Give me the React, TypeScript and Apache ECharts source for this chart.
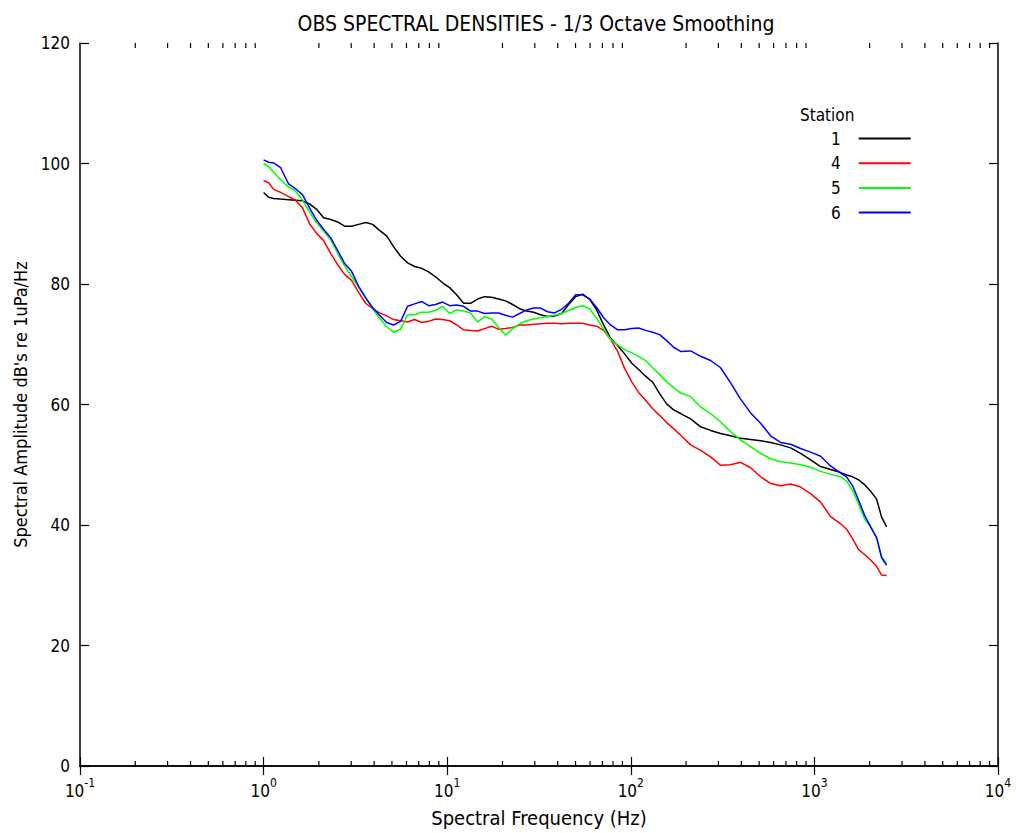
import React, { useEffect, useRef } from "react";
import * as echarts from "echarts";

// Frequencies (Hz) at which the curves were read
const frequencies = [
  1.0, 1.065, 1.134, 1.238, 1.368, 1.494, 1.631, 1.78, 1.944, 2.122,
  2.317, 2.53, 2.762, 3.015, 3.292, 3.594, 3.924, 4.283, 4.677, 5.106,
  5.575, 6.085, 6.643, 7.254, 7.918, 8.645, 9.438, 10.31, 11.25, 12.28,
  13.41, 14.64, 15.98, 17.45, 19.05, 20.8, 22.71, 24.8, 27.07, 29.55,
  32.27, 35.23, 38.46, 41.99, 45.84, 50.05, 54.64, 59.65, 65.13, 71.11,
  77.62, 84.75, 92.52, 101.0, 110.3, 120.4, 131.5, 143.5, 156.7, 171.1,
  186.8, 211.8, 240.0, 272.1, 308.4, 349.7, 396.3, 449.3, 509.3, 577.3,
  654.4, 741.9, 840.9, 953.4, 1081, 1225, 1389, 1497, 1615, 1741,
  1877, 2024, 2182, 2323, 2474,
];

const station1 = [
  95.2, 94.4, 94.2, 94.1, 94.0, 93.9, 93.8, 93.3, 92.4, 91.0,
  90.7, 90.3, 89.6, 89.6, 89.9, 90.2, 89.9, 88.9, 88.0, 86.2,
  84.6, 83.5, 82.9, 82.6, 82.0, 81.2, 80.2, 79.4, 78.2, 76.8,
  76.8, 77.5, 77.9, 77.8, 77.5, 77.2, 76.6, 75.9, 75.5, 75.3,
  74.9, 74.6, 74.7, 75.1, 76.6, 77.9, 78.3, 77.5, 75.7, 73.2,
  71.0, 69.8, 68.4, 66.9, 65.8, 64.7, 63.7, 61.8, 60.1, 59.1,
  58.5, 57.6, 56.3, 55.7, 55.2, 54.8, 54.4, 54.2, 54.0, 53.7,
  53.3, 52.8, 51.9, 50.8, 49.7, 49.2, 48.7, 48.3, 48.0, 47.5,
  46.7, 45.6, 44.3, 41.3, 39.7,
];

const station4 = [
  97.2, 96.8, 95.7, 95.2, 94.5, 93.9, 92.6, 90.0, 88.4, 87.2,
  85.1, 83.2, 81.6, 80.6, 78.6, 76.8, 75.9, 75.2, 74.7, 74.1,
  73.9, 73.7, 74.1, 73.6, 73.8, 74.2, 74.1, 73.9, 73.2, 72.4,
  72.3, 72.2, 72.6, 73.0, 72.5, 72.6, 72.8, 73.2, 73.2, 73.3,
  73.4, 73.5, 73.5, 73.4, 73.5, 73.5, 73.5, 73.2, 73.0, 72.3,
  70.8, 68.8, 66.0, 63.8, 62.0, 60.7, 59.3, 58.2, 57.0, 56.0,
  54.9, 53.3, 52.4, 51.3, 49.9, 50.0, 50.4, 49.5, 48.0, 46.9,
  46.5, 46.8, 46.3, 45.2, 43.8, 41.4, 40.2, 39.3, 37.7, 35.9,
  35.1, 34.2, 33.1, 31.7, 31.6,
];

const station5 = [
  100.0, 99.5, 98.6, 97.3, 96.1, 95.4, 93.9, 91.9, 90.2, 88.8,
  87.4, 85.1, 83.0, 81.2, 79.5, 77.8, 75.9, 74.3, 72.9, 72.0,
  72.5, 74.9, 74.9, 75.3, 75.3, 75.6, 76.3, 75.1, 75.7, 75.5,
  75.2, 73.7, 74.6, 74.2, 72.8, 71.5, 72.6, 73.4, 73.9, 74.2,
  74.4, 74.6, 74.8, 75.1, 75.6, 76.1, 76.4, 75.9, 74.3, 72.5,
  70.8, 69.9, 69.1, 68.6, 68.0, 67.3, 66.1, 65.0, 63.8, 62.8,
  61.9, 61.3, 59.6, 58.5, 57.1, 55.5, 54.1, 53.0, 51.9, 51.0,
  50.5, 50.3, 50.0, 49.6, 48.9, 48.4, 48.0, 47.3, 45.7, 43.5,
  41.0, 39.7, 37.8, 34.7, 33.6,
];

const station6 = [
  100.6, 100.2, 100.1, 99.3, 96.6, 95.8, 94.8, 92.6, 90.6, 89.1,
  87.7, 85.6, 83.4, 82.1, 79.6, 77.7, 76.1, 74.8, 73.6, 73.2,
  73.8, 76.3, 76.7, 77.1, 76.4, 76.6, 77.0, 76.4, 76.5, 76.3,
  75.5, 75.5, 75.1, 75.2, 75.2, 74.8, 74.5, 75.1, 75.7, 76.0,
  76.0, 75.4, 75.2, 75.8, 76.8, 78.2, 78.2, 77.5, 76.1, 74.4,
  73.2, 72.4, 72.4, 72.6, 72.7, 72.3, 72.0, 71.6, 70.6, 69.5,
  68.8, 68.9, 68.0, 67.3, 66.1, 63.6, 60.9, 58.6, 56.9, 54.8,
  53.7, 53.4, 52.7, 52.1, 51.4, 49.8, 48.6, 48.0, 46.5, 44.1,
  41.6, 39.7, 37.9, 34.6, 33.3,
];

const stationNames = ["1", "4", "5", "6"];
const stationValues = [station1, station4, station5, station6];
const stationColors = ["#000000", "#ff0000", "#00ff00", "#0000ff"];

const decades = [0.1, 1, 10, 100, 1000];
const minorMultipliers = [2, 3, 4, 5, 6, 7, 8, 9];

const titleText = "OBS SPECTRAL DENSITIES - 1/3 Octave Smoothing";
const xName = "Spectral Frequency (Hz)";
const yName = "Spectral Amplitude dB's re 1uPa/Hz";
const legendTitle = "Station";

export default function App() {
  const ref = useRef<HTMLDivElement>(null);

  useEffect(() => {
    document.body.style.margin = "0";
    const chart = echarts.init(ref.current as HTMLDivElement, null, { renderer: "svg" });
    const font = "'DejaVu Sans Condensed', 'Liberation Sans', Arial, sans-serif";

    const minorTicks: number[][] = [];
    decades.forEach((d) => minorMultipliers.forEach((m) => minorTicks.push([d * m, 0])));

    const lineSeries = stationValues.map((vals, i) => ({
      name: stationNames[i],
      type: "line",
      data: frequencies.map((f, j) => [f, vals[j]]),
      symbol: "none",
      showSymbol: false,
      lineStyle: { color: stationColors[i], width: 1.5 },
      itemStyle: { color: stationColors[i] },
      xAxisIndex: 0,
      yAxisIndex: 0,
      z: 3,
    }));

    const tickSeries = {
      type: "custom",
      silent: true,
      clip: false,
      xAxisIndex: 0,
      yAxisIndex: 0,
      data: minorTicks,
      encode: { x: 0, y: 1 },
      z: 5,
      renderItem: (_params: any, api: any) => {
        const v = api.value(0);
        const b = api.coord([v, 0]);
        const t = api.coord([v, 120]);
        return {
          type: "group",
          children: [
            { type: "line", shape: { x1: b[0], y1: b[1] - 5, x2: b[0], y2: b[1] }, style: { stroke: "#000", lineWidth: 1.2 } },
            { type: "line", shape: { x1: t[0], y1: t[1], x2: t[0], y2: t[1] + 5 }, style: { stroke: "#000", lineWidth: 1.2 } },
          ],
        };
      },
    };

    const axisLineStyle = { color: "#000", width: 1.5 };
    const tickStyle = { show: true, inside: true, length: 9, lineStyle: { color: "#000", width: 1.2 } };

    chart.setOption({
      animation: false,
      backgroundColor: "#ffffff",
      textStyle: { fontFamily: font, color: "#000" },
      title: {
        text: titleText,
        left: 531,
        textAlign: "center",
        top: 8,
        textStyle: { fontFamily: font, fontSize: 21, fontWeight: "normal", color: "#000" },
      },
      grid: { left: 80, right: 18, top: 43, bottom: 67, containLabel: false },
      legend: {
        data: stationNames,
        orient: "vertical",
        left: 826,
        top: 125,
        align: "right",
        icon: "rect",
        itemWidth: 52,
        itemHeight: 2,
        itemGap: 7.7,
        textStyle: { fontFamily: font, fontSize: 17, lineHeight: 14, color: "#000", padding: [0, 13, 0, 0] },
      },
      graphic: [
        {
          type: "text",
          left: 800,
          top: 106,
          style: { text: legendTitle, fontFamily: font, fontSize: 17, fill: "#000" },
        },
      ],
      xAxis: [
        {
          type: "log",
          logBase: 10,
          min: 0.1,
          max: 10000,
          position: "bottom",
          name: xName,
          nameLocation: "middle",
          nameGap: 42,
          nameTextStyle: { fontFamily: font, fontSize: 20, color: "#000" },
          axisLine: { show: true, lineStyle: axisLineStyle },
          axisTick: tickStyle,
          splitLine: { show: false },
          axisLabel: {
            margin: 11,
            color: "#000",
            showMinLabel: true,
            showMaxLabel: true,
            formatter: (value: number) => {
              const e = Math.round(Math.log10(value));
              return "{b|10}{s|" + e + "}";
            },
            rich: {
              b: { fontFamily: font, fontSize: 17, color: "#000", verticalAlign: "bottom", lineHeight: 22 },
              s: { fontFamily: font, fontSize: 12, color: "#000", verticalAlign: "top", lineHeight: 14 },
            },
          },
        },
        {
          type: "log",
          logBase: 10,
          min: 0.1,
          max: 10000,
          position: "top",
          axisLine: { show: true, lineStyle: axisLineStyle },
          axisTick: tickStyle,
          axisLabel: { show: false },
          splitLine: { show: false },
        },
      ],
      yAxis: [
        {
          type: "value",
          min: 0,
          max: 120,
          interval: 20,
          position: "left",
          name: yName,
          nameLocation: "middle",
          nameGap: 50,
          nameTextStyle: { fontFamily: font, fontSize: 18, color: "#000" },
          axisLine: { show: true, lineStyle: axisLineStyle },
          axisTick: tickStyle,
          splitLine: { show: false },
          axisLabel: { margin: 10, fontFamily: font, fontSize: 17, color: "#000" },
        },
        {
          type: "value",
          min: 0,
          max: 120,
          interval: 20,
          position: "right",
          axisLine: { show: true, lineStyle: axisLineStyle },
          axisTick: tickStyle,
          axisLabel: { show: false },
          splitLine: { show: false },
        },
      ],
      series: [...lineSeries, tickSeries],
    });

    return () => chart.dispose();
  }, []);

  return <div ref={ref} style={{ width: 1016, height: 833 }} />;
}
